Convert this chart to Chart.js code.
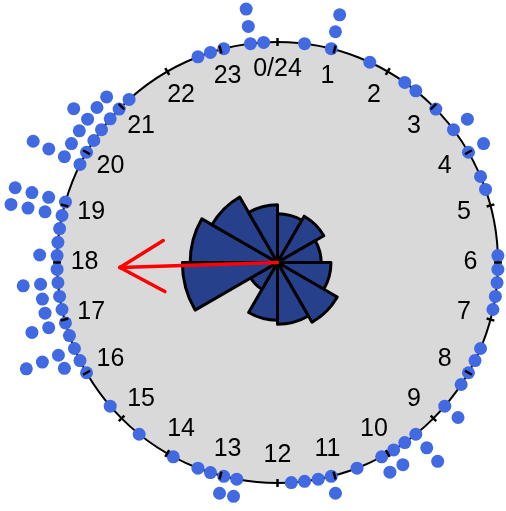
<!DOCTYPE html>
<html>
<head>
<meta charset="utf-8">
<script src="https://cdn.jsdelivr.net/npm/chart.js@4.4.1/dist/chart.umd.min.js"></script>
<style>
html,body{margin:0;padding:0;background:#ffffff;}
#wrap{width:506px;height:511px;position:relative;}
</style>
</head>
<body>
<div id="wrap"><canvas id="c"></canvas></div>
<script>
// Observations (hour of day), one entry per point; repeated values stack outward
const obsHours = [
  0.47, 0.94, 0.94, 0.94, 1.65,
  2.35, 2.59, 3.06, 3.53, 3.53,
  4.00, 4.00, 4.47, 4.71, 5.88,
  6.12, 6.35, 6.59, 6.82, 7.53, 7.76,
  8.00, 8.24, 8.71, 8.71, 9.41, 9.41, 9.41, 9.65, 9.88, 9.88,
  10.12, 10.12, 10.59, 11.06, 11.06, 11.29, 11.53, 11.76,
  12.71, 12.71, 12.94, 12.94, 13.18, 13.41, 13.88,
  14.59, 15.29,
  16.00, 16.24, 16.24, 16.47, 16.47, 16.47, 16.47, 16.71, 16.94, 16.94, 16.94,
  17.18, 17.18, 17.41, 17.41, 17.65, 17.65, 17.65, 17.88,
  18.12, 18.12, 18.35, 18.59, 18.82, 18.82, 18.82, 18.82, 19.06, 19.06, 19.06, 19.06,
  19.76, 19.76, 19.76, 19.76,
  20.00, 20.00, 20.24, 20.24, 20.47, 20.47, 20.47, 20.71, 20.71, 20.94, 20.94, 21.18,
  22.59, 22.82, 23.06, 23.53, 23.53, 23.53, 23.76
];

// Rose diagram: bin start hours (2-hour bins) and counts per bin
const roseBinStart = [0, 2, 4, 6, 8, 10, 12, 14, 16, 18, 20, 22];
const roseCounts   = [5, 6, 4, 6, 10, 8, 7, 2, 19, 16, 12, 7];
const roseBinWidth = 2;

// Clock axis ticks and labels
const tickHours  = [0,1,2,3,4,5,6,7,8,9,10,11,12,13,14,15,16,17,18,19,20,21,22,23];
const tickLabels = ["0/24","1","2","3","4","5","6","7","8","9","10","11","12","13","14","15","16","17","18","19","20","21","22","23"];

// Mean direction arrow
const meanDirectionHour = 17.88;
const meanArrowLength = 0.715;

const STACK_STEP = 0.079;
const LABEL_RADIUS = 0.875;

function polar(h, r) {
  const t = h * Math.PI / 12;
  return { x: r * Math.sin(t), y: r * Math.cos(t) };
}

const stackSeen = {};
const dotPoints = obsHours.map(h => {
  const k = (stackSeen[h] === undefined) ? 0 : stackSeen[h] + 1;
  stackSeen[h] = k;
  return polar(h, 1 + k * STACK_STEP);
});

const clockPlugin = {
  id: 'clock',
  beforeDatasetsDraw(chart) {
    const { ctx, scales: { x, y } } = chart;
    const cx = x.getPixelForValue(0), cy = y.getPixelForValue(0);
    const rp = x.getPixelForValue(1) - cx;
    ctx.save();
    ctx.beginPath();
    ctx.arc(cx, cy, rp, 0, 2 * Math.PI);
    ctx.fillStyle = '#d9d9d9';
    ctx.fill();
    ctx.lineWidth = 2;
    ctx.strokeStyle = '#000000';
    ctx.stroke();
    ctx.restore();
  },
  afterDatasetsDraw(chart) {
    const { ctx, scales: { x, y } } = chart;
    const px = (h, r) => { const p = polar(h, r); return { x: x.getPixelForValue(p.x), y: y.getPixelForValue(p.y) }; };
    const cx = x.getPixelForValue(0), cy = y.getPixelForValue(0);
    const unit = x.getPixelForValue(1) - cx;
    ctx.save();
    // ticks
    ctx.strokeStyle = '#000000';
    ctx.lineWidth = 2.5;
    tickHours.forEach(h => {
      const a = px(h, 0.982), b = px(h, 1.018);
      ctx.beginPath(); ctx.moveTo(a.x, a.y); ctx.lineTo(b.x, b.y); ctx.stroke();
    });
    // labels
    ctx.fillStyle = '#000000';
    ctx.font = "25px 'Liberation Sans', Arial, sans-serif";
    ctx.textAlign = 'center';
    ctx.textBaseline = 'middle';
    tickHours.forEach((h, i) => {
      const p = px(h, LABEL_RADIUS);
      ctx.fillText(tickLabels[i], p.x, p.y);
    });
    // rose
    const total = roseCounts.reduce((s, v) => s + v, 0);
    ctx.lineWidth = 3;
    ctx.lineJoin = 'round';
    ctx.fillStyle = '#27408b';
    ctx.strokeStyle = '#000000';
    roseBinStart.forEach((h0, i) => {
      const r = Math.sqrt(roseCounts[i] / total) * unit;
      const a0 = h0 * Math.PI / 12 - Math.PI / 2;
      const a1 = (h0 + roseBinWidth) * Math.PI / 12 - Math.PI / 2;
      ctx.beginPath();
      ctx.moveTo(cx, cy);
      ctx.arc(cx, cy, r, a0, a1);
      ctx.closePath();
      ctx.fill();
      ctx.stroke();
    });
    // arrow
    const tip = px(meanDirectionHour, meanArrowLength);
    ctx.strokeStyle = '#ff0000';
    ctx.lineWidth = 3.5;
    ctx.lineCap = 'round';
    ctx.beginPath(); ctx.moveTo(cx, cy); ctx.lineTo(tip.x, tip.y); ctx.stroke();
    const bx = cx - tip.x, by = cy - tip.y, bl = Math.hypot(bx, by);
    const ux = bx / bl, uy = by / bl;
    const headLen = 51, ang = Math.PI / 6;
    [ang, -ang].forEach(a => {
      const hx = ux * Math.cos(a) - uy * Math.sin(a);
      const hy = ux * Math.sin(a) + uy * Math.cos(a);
      ctx.beginPath(); ctx.moveTo(tip.x, tip.y); ctx.lineTo(tip.x + hx * headLen, tip.y + hy * headLen); ctx.stroke();
    });
    ctx.restore();
  }
};

new Chart(document.getElementById('c'), {
  type: 'scatter',
  data: {
    datasets: [{
      data: dotPoints,
      pointRadius: 6.5,
      pointHoverRadius: 6.5,
      backgroundColor: '#4169e1',
      borderWidth: 0,
      clip: false
    }]
  },
  options: {
    responsive: true,
    maintainAspectRatio: false,
    animation: false,
    events: [],
    layout: { padding: 0, autoPadding: false },
    plugins: { legend: { display: false }, tooltip: { enabled: false } },
    scales: {
      x: { type: 'linear', min: -1.2585, max: 1.0363, display: false },
      y: { type: 'linear', min: -1.127, max: 1.1905, display: false }
    }
  },
  plugins: [clockPlugin]
});
</script>
</body>
</html>
